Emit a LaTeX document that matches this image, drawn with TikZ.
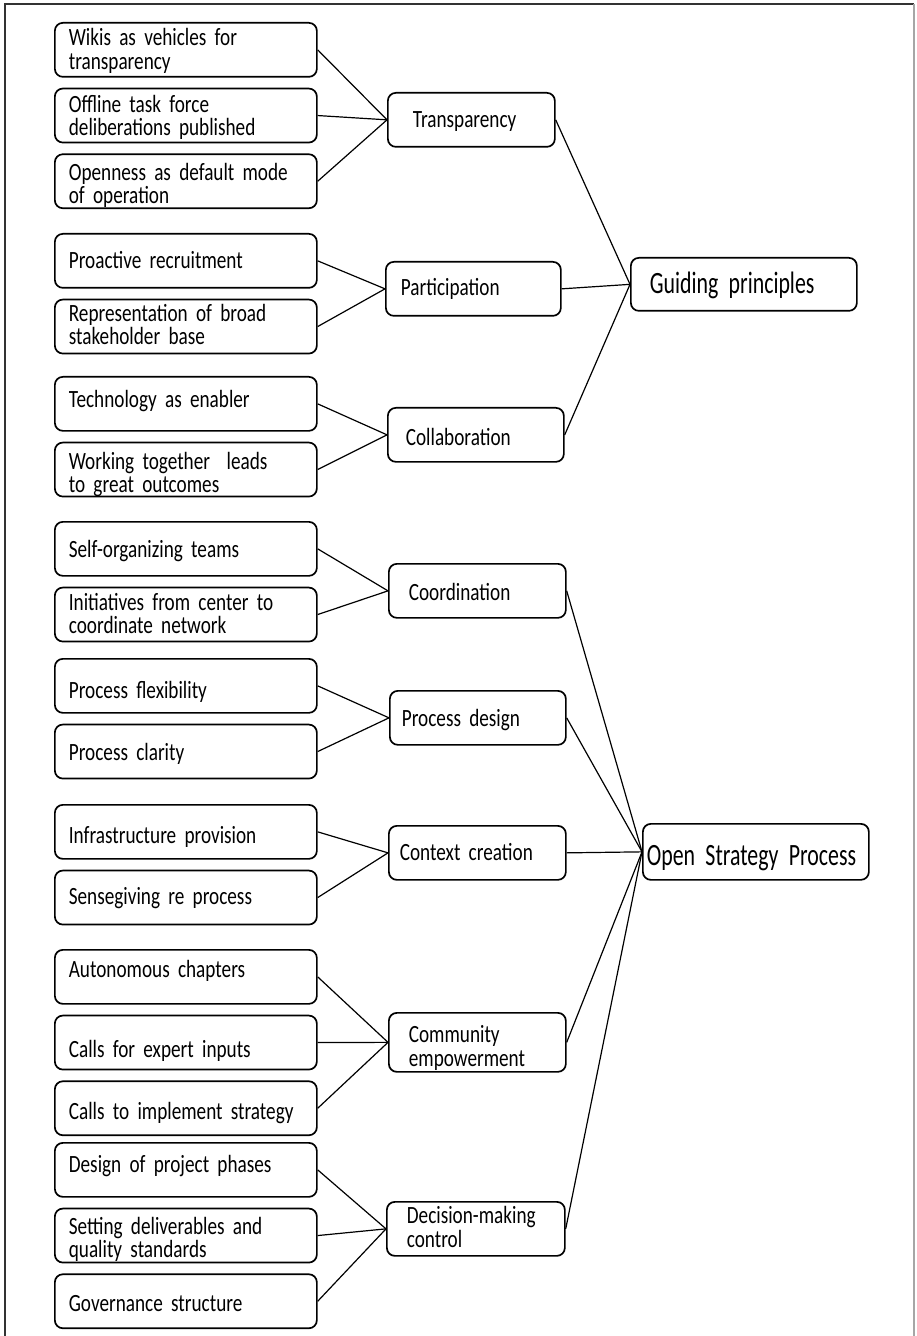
\documentclass[tikz,border=0pt]{standalone}
\usepackage{fontspec}
\setmainfont{Carlito}[FakeStretch=0.775]
\newfontfamily\bigfont{Carlito}[FakeStretch=0.705]
\usetikzlibrary{positioning}
\tikzset{
	lbox/.style = {draw, line width=0.85pt, rounded corners=4pt, anchor=north west,
	 align=left, text width=117pt, inner xsep=7pt, inner ysep=0pt,
	 text height=#1, text depth=27pt-#1}}
\tikzset{
	mbox/.style 2 args = {draw, line width=0.85pt, rounded corners=4pt, anchor=north west,
	 align=left, inner xsep=#1, inner ysep=0pt,
	 text height=#2, text depth=27pt-#2}}
\tikzset{
	rbox/.style 2 args = {draw, line width=0.85pt, rounded corners=4pt, anchor=north west,
	 align=left, inner xsep=#1, inner ysep=0pt, text height=#2,
	 font=\bigfont\fontsize{15.5}{17}\selectfont}}

\begin{document}
\begin{tikzpicture}[x=0.5pt, y=-0.5pt, line width=0.6pt, font=\fontsize{12.4}{11.65}\selectfont]

\useasboundingbox (0,0) rectangle (916,1336);
\draw [line width=1pt, black!80] (5,1336) -- (5,4.5) -- (914,4.5);
\draw [line width=1pt, black!35] (914,4.5) -- (914,1336);

% NODES
\node (wiki) [lbox=11.5pt] at (54,22) {Wikis as vehicles for\\transparency};
\node (offline) [lbox=12pt, below=5pt of wiki] {Offline task force\\deliberations published};
\node (openness) [lbox=13pt, below=5pt of offline] {Openness as default mode\\of operation};
\node (proactive) [lbox=17.5pt] at (54,233) {Proactive recruitment};
\node (represent) [lbox=11pt, below=5pt of proactive] {Representation of broad\\stakeholder base};
\node (techno) [lbox=15.5pt] at (54,376) {Technology as enabler};
\node (together) [lbox=13.5pt, below=5pt of techno] {Working together~ leads\\to great outcomes};
\node (selforg) [lbox=18pt] at (54,521) {Self-organizing teams};
\node (initiat) [lbox=11.5pt, below=5pt of selforg] {Initiatives from center to\\coordinate network};
\node (flex) [lbox=20pt] at (54,658) {Process flexibility};
\node (clarity) [lbox=18pt, below=5pt of flex] {Process clarity};
\node (infra) [lbox=19.5pt] at (54,804) {Infrastructure provision};
\node (sense) [lbox=17pt, below=5pt of infra] {Sensegiving re process};
\node (autonom) [lbox=14pt] at (54,949) {Autonomous chapters};
\node (expert) [lbox=21pt, below=5pt of autonom] {Calls for expert inputs};
\node (implem) [lbox=19pt, below=5pt of expert] {Calls to implement strategy};
\node (phases) [lbox=15pt] at (54,1142) {Design of project phases};
\node (deliver) [lbox=13pt, below=5pt of phases] {Setting deliverables and\\quality standards};
\node (govern) [lbox=18.5pt, below=5pt of deliver] {Governance structure};

\node (transp) [mbox={12.5pt}{17.5pt}, text width=58.5pt] at (387,92) {Transparency};
\node (partic) [mbox={7.5pt}{17pt}, text width=72.5pt] at (385,261) {Participation};
\node (collab) [mbox={9pt}{19pt}, text width=70pt] at (387,407) {Collaboration};
\node (coord) [mbox={10pt}{18.5pt}, text width=68.5pt] at (388,563) {Coordination};
\node (design) [mbox={6pt}{18pt}, text width=76pt] at (389,690) {Process design};
\node (context) [mbox={5.5pt}{17.5pt}, text width=77.5pt] at (388,825) {Context creation};
\node (commun) [mbox={10pt}{15pt}, text width=68.5pt, text depth=14.5pt] at (388,1012) {Community\\empowerment};
\node (decide) [mbox={10pt}{11pt}, text width=69pt] at (386,1201) {Decision-making\\control};

\node (guide) [rbox={9.5pt}{18pt}, text width=94pt, text depth=8.5pt] at (630,257) {Guiding principles};
\node (osp) [rbox={2pt}{21pt}, text width=109pt, text depth=7pt] at (642,823) {Open Strategy Process};

%CONNECTIONS
\draw (wiki.east) -- (transp.west);
\draw (offline.east) -- (transp.west);
\draw (openness.east) -- (transp.west);
\draw (proactive.east) -- (partic.west);
\draw (represent.east) -- (partic.west);
\draw (techno.east) -- (collab.west);
\draw (together.east) -- (collab.west);
\draw (selforg.east) -- (coord.west);
\draw (initiat.east) -- (coord.west);
\draw (flex.east) -- (design.west);
\draw (clarity.east) -- (design.west);
\draw (infra.east) -- (context.west);
\draw (sense.east) -- (context.west);
\draw (autonom.east) -- (commun.west);
\draw (expert.east) -- (commun.west);
\draw (implem.east) -- (commun.west);
\draw (phases.east) -- (decide.west);
\draw (deliver.east) -- (decide.west);
\draw (govern.east) -- (decide.west);

\draw (transp.east) -- (guide.west);
\draw (partic.east) -- (guide.west);
\draw (collab.east) -- (guide.west);
\draw (coord.east) -- (osp.west);
\draw (design.east) -- (osp.west);
\draw (context.east) -- (osp.west);
\draw (commun.east) -- (osp.west);
\draw (decide.east) -- (osp.west);

\end{tikzpicture}
\end{document}
